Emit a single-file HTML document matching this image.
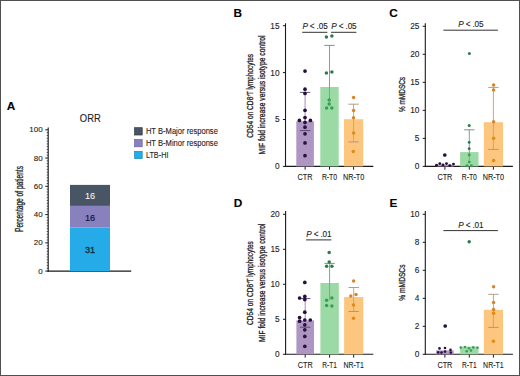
<!DOCTYPE html>
<html><head><meta charset="utf-8"><style>
html,body{margin:0;padding:0;background:#fff;overflow:hidden;width:520px;height:376px;}
svg{display:block;font-family:"Liberation Sans", sans-serif;}
</style></head><body>
<svg width="520" height="376" viewBox="0 0 520 376" font-family='"Liberation Sans", sans-serif'>
<rect x="0" y="0" width="520" height="376" fill="#fff"/>
<text x="6.8" y="110.4" font-size="11.8" text-anchor="start" font-weight="bold" fill="#000" stroke="#000" stroke-width="0.1" >A</text>
<text x="90.3" y="121.7" font-size="10.3" text-anchor="middle" font-weight="normal" fill="#222" stroke="#222" stroke-width="0.1" textLength="20.9" lengthAdjust="spacingAndGlyphs">ORR</text>
<line x1="48.2" y1="127.5" x2="48.2" y2="271.7" stroke="#1a1a1a" stroke-width="1.1"/>
<line x1="45.3" y1="271.1" x2="48.2" y2="271.1" stroke="#1a1a1a" stroke-width="1"/>
<text x="42.7" y="273.6" font-size="8.0" text-anchor="end" font-weight="normal" fill="#222" stroke="#222" stroke-width="0.1" >0</text>
<line x1="46.7" y1="268.27" x2="48.2" y2="268.27" stroke="#1a1a1a" stroke-width="0.7"/>
<line x1="46.7" y1="265.45" x2="48.2" y2="265.45" stroke="#1a1a1a" stroke-width="0.7"/>
<line x1="46.7" y1="262.62" x2="48.2" y2="262.62" stroke="#1a1a1a" stroke-width="0.7"/>
<line x1="46.7" y1="259.8" x2="48.2" y2="259.8" stroke="#1a1a1a" stroke-width="0.7"/>
<line x1="46.7" y1="256.97" x2="48.2" y2="256.97" stroke="#1a1a1a" stroke-width="0.7"/>
<line x1="46.7" y1="254.14" x2="48.2" y2="254.14" stroke="#1a1a1a" stroke-width="0.7"/>
<line x1="46.7" y1="251.32" x2="48.2" y2="251.32" stroke="#1a1a1a" stroke-width="0.7"/>
<line x1="46.7" y1="248.49" x2="48.2" y2="248.49" stroke="#1a1a1a" stroke-width="0.7"/>
<line x1="46.7" y1="245.67" x2="48.2" y2="245.67" stroke="#1a1a1a" stroke-width="0.7"/>
<line x1="45.3" y1="242.84" x2="48.2" y2="242.84" stroke="#1a1a1a" stroke-width="1"/>
<text x="42.7" y="245.34" font-size="8.0" text-anchor="end" font-weight="normal" fill="#222" stroke="#222" stroke-width="0.1" >20</text>
<line x1="46.7" y1="240.01" x2="48.2" y2="240.01" stroke="#1a1a1a" stroke-width="0.7"/>
<line x1="46.7" y1="237.19" x2="48.2" y2="237.19" stroke="#1a1a1a" stroke-width="0.7"/>
<line x1="46.7" y1="234.36" x2="48.2" y2="234.36" stroke="#1a1a1a" stroke-width="0.7"/>
<line x1="46.7" y1="231.54" x2="48.2" y2="231.54" stroke="#1a1a1a" stroke-width="0.7"/>
<line x1="46.7" y1="228.71" x2="48.2" y2="228.71" stroke="#1a1a1a" stroke-width="0.7"/>
<line x1="46.7" y1="225.88" x2="48.2" y2="225.88" stroke="#1a1a1a" stroke-width="0.7"/>
<line x1="46.7" y1="223.06" x2="48.2" y2="223.06" stroke="#1a1a1a" stroke-width="0.7"/>
<line x1="46.7" y1="220.23" x2="48.2" y2="220.23" stroke="#1a1a1a" stroke-width="0.7"/>
<line x1="46.7" y1="217.41" x2="48.2" y2="217.41" stroke="#1a1a1a" stroke-width="0.7"/>
<line x1="45.3" y1="214.58" x2="48.2" y2="214.58" stroke="#1a1a1a" stroke-width="1"/>
<text x="42.7" y="217.08" font-size="8.0" text-anchor="end" font-weight="normal" fill="#222" stroke="#222" stroke-width="0.1" >40</text>
<line x1="46.7" y1="211.75" x2="48.2" y2="211.75" stroke="#1a1a1a" stroke-width="0.7"/>
<line x1="46.7" y1="208.93" x2="48.2" y2="208.93" stroke="#1a1a1a" stroke-width="0.7"/>
<line x1="46.7" y1="206.1" x2="48.2" y2="206.1" stroke="#1a1a1a" stroke-width="0.7"/>
<line x1="46.7" y1="203.28" x2="48.2" y2="203.28" stroke="#1a1a1a" stroke-width="0.7"/>
<line x1="46.7" y1="200.45" x2="48.2" y2="200.45" stroke="#1a1a1a" stroke-width="0.7"/>
<line x1="46.7" y1="197.62" x2="48.2" y2="197.62" stroke="#1a1a1a" stroke-width="0.7"/>
<line x1="46.7" y1="194.8" x2="48.2" y2="194.8" stroke="#1a1a1a" stroke-width="0.7"/>
<line x1="46.7" y1="191.97" x2="48.2" y2="191.97" stroke="#1a1a1a" stroke-width="0.7"/>
<line x1="46.7" y1="189.15" x2="48.2" y2="189.15" stroke="#1a1a1a" stroke-width="0.7"/>
<line x1="45.3" y1="186.32" x2="48.2" y2="186.32" stroke="#1a1a1a" stroke-width="1"/>
<text x="42.7" y="188.82" font-size="8.0" text-anchor="end" font-weight="normal" fill="#222" stroke="#222" stroke-width="0.1" >60</text>
<line x1="46.7" y1="183.49" x2="48.2" y2="183.49" stroke="#1a1a1a" stroke-width="0.7"/>
<line x1="46.7" y1="180.67" x2="48.2" y2="180.67" stroke="#1a1a1a" stroke-width="0.7"/>
<line x1="46.7" y1="177.84" x2="48.2" y2="177.84" stroke="#1a1a1a" stroke-width="0.7"/>
<line x1="46.7" y1="175.02" x2="48.2" y2="175.02" stroke="#1a1a1a" stroke-width="0.7"/>
<line x1="46.7" y1="172.19" x2="48.2" y2="172.19" stroke="#1a1a1a" stroke-width="0.7"/>
<line x1="46.7" y1="169.36" x2="48.2" y2="169.36" stroke="#1a1a1a" stroke-width="0.7"/>
<line x1="46.7" y1="166.54" x2="48.2" y2="166.54" stroke="#1a1a1a" stroke-width="0.7"/>
<line x1="46.7" y1="163.71" x2="48.2" y2="163.71" stroke="#1a1a1a" stroke-width="0.7"/>
<line x1="46.7" y1="160.89" x2="48.2" y2="160.89" stroke="#1a1a1a" stroke-width="0.7"/>
<line x1="45.3" y1="158.06" x2="48.2" y2="158.06" stroke="#1a1a1a" stroke-width="1"/>
<text x="42.7" y="160.56" font-size="8.0" text-anchor="end" font-weight="normal" fill="#222" stroke="#222" stroke-width="0.1" >80</text>
<line x1="46.7" y1="155.23" x2="48.2" y2="155.23" stroke="#1a1a1a" stroke-width="0.7"/>
<line x1="46.7" y1="152.41" x2="48.2" y2="152.41" stroke="#1a1a1a" stroke-width="0.7"/>
<line x1="46.7" y1="149.58" x2="48.2" y2="149.58" stroke="#1a1a1a" stroke-width="0.7"/>
<line x1="46.7" y1="146.76" x2="48.2" y2="146.76" stroke="#1a1a1a" stroke-width="0.7"/>
<line x1="46.7" y1="143.93" x2="48.2" y2="143.93" stroke="#1a1a1a" stroke-width="0.7"/>
<line x1="46.7" y1="141.1" x2="48.2" y2="141.1" stroke="#1a1a1a" stroke-width="0.7"/>
<line x1="46.7" y1="138.28" x2="48.2" y2="138.28" stroke="#1a1a1a" stroke-width="0.7"/>
<line x1="46.7" y1="135.45" x2="48.2" y2="135.45" stroke="#1a1a1a" stroke-width="0.7"/>
<line x1="46.7" y1="132.63" x2="48.2" y2="132.63" stroke="#1a1a1a" stroke-width="0.7"/>
<line x1="45.3" y1="129.8" x2="48.2" y2="129.8" stroke="#1a1a1a" stroke-width="1"/>
<text x="42.7" y="132.3" font-size="8.0" text-anchor="end" font-weight="normal" fill="#222" stroke="#222" stroke-width="0.1" >100</text>
<line x1="47.7" y1="271.1" x2="131.2" y2="271.1" stroke="#1a1a1a" stroke-width="1.1"/>
<rect x="70" y="227.6" width="40" height="43.5" fill="#25abe7"/>
<rect x="70" y="205.9" width="40" height="21.7" fill="#8981be"/>
<rect x="70" y="184.9" width="40" height="21.0" fill="#485565"/>
<text x="90" y="253.1" font-size="9.2" text-anchor="middle" font-weight="normal" fill="#0e2a42" stroke="#0e2a42" stroke-width="0.3" >31</text>
<text x="90" y="220.7" font-size="9.2" text-anchor="middle" font-weight="normal" fill="#16163a" stroke="#16163a" stroke-width="0.2" >16</text>
<text x="90" y="198.8" font-size="9.2" text-anchor="middle" font-weight="normal" fill="#fff" stroke="#fff" stroke-width="0.1" stroke-opacity="0">16</text>
<rect x="134.6" y="127.7" width="7.6" height="7.3" fill="#485565" stroke="#2c3440" stroke-width="0.7"/>
<text x="145.9" y="134.1" font-size="8.4" text-anchor="start" font-weight="normal" fill="#222" stroke="#222" stroke-width="0.1" textLength="72.0" lengthAdjust="spacingAndGlyphs">HT B-Major response</text>
<rect x="134.6" y="139.50000000000003" width="7.6" height="7.3" fill="#8981be" stroke="#6d62a6" stroke-width="0.7"/>
<text x="145.9" y="145.9" font-size="8.4" text-anchor="start" font-weight="normal" fill="#222" stroke="#222" stroke-width="0.1" textLength="72.0" lengthAdjust="spacingAndGlyphs">HT B-Minor response</text>
<rect x="134.6" y="151.3" width="7.6" height="7.3" fill="#25abe7" stroke="#1888c0" stroke-width="0.7"/>
<text x="145.9" y="157.7" font-size="8.4" text-anchor="start" font-weight="normal" fill="#222" stroke="#222" stroke-width="0.1" textLength="22.6" lengthAdjust="spacingAndGlyphs">LTB-HI</text>
<text transform="translate(22.9,199) rotate(-90)" font-size="10.2" text-anchor="middle" fill="#222" stroke="#222" stroke-width="0.3" textLength="66" lengthAdjust="spacingAndGlyphs">Percentage of patients</text>
<text x="233.6" y="16.8" font-size="11.8" text-anchor="start" font-weight="bold" fill="#000" stroke="#000" stroke-width="0.1" >B</text>
<line x1="285.5" y1="23.3" x2="285.5" y2="166.9" stroke="#1a1a1a" stroke-width="1.1"/>
<line x1="282.9" y1="166.4" x2="285.5" y2="166.4" stroke="#1a1a1a" stroke-width="1"/>
<text x="279.6" y="169.3" font-size="8.3" text-anchor="end" font-weight="normal" fill="#222" stroke="#222" stroke-width="0.1" >0</text>
<line x1="282.9" y1="119.5" x2="285.5" y2="119.5" stroke="#1a1a1a" stroke-width="1"/>
<text x="279.6" y="122.4" font-size="8.3" text-anchor="end" font-weight="normal" fill="#222" stroke="#222" stroke-width="0.1" >5</text>
<line x1="282.9" y1="72.6" x2="285.5" y2="72.6" stroke="#1a1a1a" stroke-width="1"/>
<text x="279.6" y="75.5" font-size="8.3" text-anchor="end" font-weight="normal" fill="#222" stroke="#222" stroke-width="0.1" >10</text>
<line x1="282.9" y1="25.7" x2="285.5" y2="25.7" stroke="#1a1a1a" stroke-width="1"/>
<text x="279.6" y="28.6" font-size="8.3" text-anchor="end" font-weight="normal" fill="#222" stroke="#222" stroke-width="0.1" >15</text>
<line x1="285.0" y1="166.4" x2="373.3" y2="166.4" stroke="#1a1a1a" stroke-width="1.1"/>
<line x1="305.1" y1="166.4" x2="305.1" y2="169.7" stroke="#1a1a1a" stroke-width="1"/>
<text x="305.1" y="179.6" font-size="8.3" text-anchor="middle" font-weight="normal" fill="#222" stroke="#222" stroke-width="0.1" textLength="15.0" lengthAdjust="spacingAndGlyphs">CTR</text>
<line x1="329.5" y1="166.4" x2="329.5" y2="169.7" stroke="#1a1a1a" stroke-width="1"/>
<text x="329.5" y="179.6" font-size="8.3" text-anchor="middle" font-weight="normal" fill="#222" stroke="#222" stroke-width="0.1" textLength="15.2" lengthAdjust="spacingAndGlyphs">R-T0</text>
<line x1="353.6" y1="166.4" x2="353.6" y2="169.7" stroke="#1a1a1a" stroke-width="1"/>
<text x="353.6" y="179.6" font-size="8.3" text-anchor="middle" font-weight="normal" fill="#222" stroke="#222" stroke-width="0.1" textLength="21.4" lengthAdjust="spacingAndGlyphs">NR-T0</text>
<rect x="296.3" y="121.2" width="17.6" height="45.2" fill="#ae96c3"/>
<rect x="320.3" y="87.0" width="18.4" height="79.4" fill="#9cdaa5"/>
<rect x="344.0" y="119.2" width="19.2" height="47.2" fill="#fdc67e"/>
<line x1="305.1" y1="92.4" x2="305.1" y2="130.6" stroke="#a48cc2" stroke-width="1.0"/>
<line x1="299.9" y1="92.4" x2="310.3" y2="92.4" stroke="#54406a" stroke-width="0.9"/>
<line x1="299.9" y1="130.6" x2="310.3" y2="130.6" stroke="#54406a" stroke-width="0.9"/>
<line x1="329.5" y1="45.4" x2="329.5" y2="101.0" stroke="#78a888" stroke-width="1.0"/>
<line x1="324.3" y1="45.4" x2="334.7" y2="45.4" stroke="#6a8c78" stroke-width="0.9"/>
<line x1="353.6" y1="104.2" x2="353.6" y2="141.9" stroke="#d4a468" stroke-width="1.0"/>
<line x1="348.4" y1="104.2" x2="358.8" y2="104.2" stroke="#a8937a" stroke-width="0.9"/>
<line x1="348.4" y1="141.9" x2="358.8" y2="141.9" stroke="#a8937a" stroke-width="0.9"/>
<circle cx="305" cy="71.1" r="1.85" fill="#24103a"/>
<circle cx="305" cy="89.2" r="1.85" fill="#24103a"/>
<circle cx="305" cy="93.4" r="1.85" fill="#24103a"/>
<circle cx="305" cy="110.3" r="1.85" fill="#24103a"/>
<circle cx="305" cy="117.6" r="1.85" fill="#24103a"/>
<circle cx="299.4" cy="120.4" r="1.85" fill="#24103a"/>
<circle cx="310.4" cy="120.4" r="1.85" fill="#24103a"/>
<circle cx="305" cy="122.4" r="1.85" fill="#2a1240"/>
<circle cx="305" cy="127.2" r="1.85" fill="#2a1240"/>
<circle cx="305" cy="133.8" r="1.85" fill="#2a1240"/>
<circle cx="305" cy="142.9" r="1.85" fill="#2a1240"/>
<circle cx="305" cy="155.7" r="1.85" fill="#2a1240"/>
<circle cx="326.4" cy="37" r="1.75" fill="#2b7c4a"/>
<circle cx="331.9" cy="35.9" r="1.75" fill="#2b7c4a"/>
<circle cx="326.4" cy="73.1" r="1.75" fill="#2b7c4a"/>
<circle cx="331.9" cy="72" r="1.75" fill="#2b7c4a"/>
<circle cx="329.2" cy="100" r="1.75" fill="#36a052"/>
<circle cx="329.2" cy="103.9" r="1.75" fill="#36a052"/>
<circle cx="326.6" cy="107.9" r="1.75" fill="#36a052"/>
<circle cx="331.8" cy="107.9" r="1.75" fill="#36a052"/>
<circle cx="353.6" cy="97.4" r="1.75" fill="#d6862a"/>
<circle cx="353.6" cy="110.5" r="1.75" fill="#d6862a"/>
<circle cx="353.5" cy="117.8" r="1.75" fill="#d6862a"/>
<circle cx="353.6" cy="133.1" r="1.75" fill="#e08a1a"/>
<circle cx="353.3" cy="151.5" r="1.75" fill="#e08a1a"/>
<line x1="302.2" y1="32.3" x2="327.4" y2="32.3" stroke="#333" stroke-width="1"/>
<text x="315.0" y="29.3" font-size="8.2" letter-spacing="-0.15" text-anchor="middle" fill="#222" stroke="#222" stroke-width="0.1"><tspan font-style="italic">P</tspan> &lt; .05</text>
<line x1="331.0" y1="32.3" x2="356.4" y2="32.3" stroke="#333" stroke-width="1"/>
<text x="343.9" y="29.3" font-size="8.2" letter-spacing="-0.15" text-anchor="middle" fill="#222" stroke="#222" stroke-width="0.1"><tspan font-style="italic">P</tspan> &lt; .05</text>
<text transform="translate(264.9,94.9) rotate(-90)" font-size="9.4" text-anchor="middle" fill="#222" stroke="#222" stroke-width="0.3" textLength="119.0" lengthAdjust="spacingAndGlyphs">MIF fold increase versus isotype control</text>
<text transform="translate(252.8,137.7) rotate(-90)" font-size="9.4" text-anchor="start" fill="#222" stroke="#222" stroke-width="0.3" textLength="41.0" lengthAdjust="spacingAndGlyphs">CD54 on CD8</text>
<text transform="translate(250.4,96.99999999999999) rotate(-90)" font-size="6" text-anchor="start" fill="#222" stroke="#222" stroke-width="0.1">+</text>
<text transform="translate(252.8,95.1) rotate(-90)" font-size="9.4" text-anchor="start" fill="#222" stroke="#222" stroke-width="0.3" textLength="41.0" lengthAdjust="spacingAndGlyphs">T lymphocytes</text>
<text x="233.8" y="206.9" font-size="11.8" text-anchor="start" font-weight="bold" fill="#000" stroke="#000" stroke-width="0.1" >D</text>
<line x1="285.6" y1="210.9" x2="285.6" y2="354.8" stroke="#1a1a1a" stroke-width="1.1"/>
<line x1="283.0" y1="354.3" x2="285.6" y2="354.3" stroke="#1a1a1a" stroke-width="1"/>
<text x="279.7" y="357.2" font-size="8.3" text-anchor="end" font-weight="normal" fill="#222" stroke="#222" stroke-width="0.1" >0</text>
<line x1="283.0" y1="319.3" x2="285.6" y2="319.3" stroke="#1a1a1a" stroke-width="1"/>
<text x="279.7" y="322.2" font-size="8.3" text-anchor="end" font-weight="normal" fill="#222" stroke="#222" stroke-width="0.1" >5</text>
<line x1="283.0" y1="284.3" x2="285.6" y2="284.3" stroke="#1a1a1a" stroke-width="1"/>
<text x="279.7" y="287.2" font-size="8.3" text-anchor="end" font-weight="normal" fill="#222" stroke="#222" stroke-width="0.1" >10</text>
<line x1="283.0" y1="249.3" x2="285.6" y2="249.3" stroke="#1a1a1a" stroke-width="1"/>
<text x="279.7" y="252.2" font-size="8.3" text-anchor="end" font-weight="normal" fill="#222" stroke="#222" stroke-width="0.1" >15</text>
<line x1="283.0" y1="214.3" x2="285.6" y2="214.3" stroke="#1a1a1a" stroke-width="1"/>
<text x="279.7" y="217.2" font-size="8.3" text-anchor="end" font-weight="normal" fill="#222" stroke="#222" stroke-width="0.1" >20</text>
<line x1="285.1" y1="354.3" x2="373.3" y2="354.3" stroke="#1a1a1a" stroke-width="1.1"/>
<line x1="305.2" y1="354.3" x2="305.2" y2="357.6" stroke="#1a1a1a" stroke-width="1"/>
<text x="305.2" y="367.5" font-size="8.3" text-anchor="middle" font-weight="normal" fill="#222" stroke="#222" stroke-width="0.1" textLength="15.0" lengthAdjust="spacingAndGlyphs">CTR</text>
<line x1="329.6" y1="354.3" x2="329.6" y2="357.6" stroke="#1a1a1a" stroke-width="1"/>
<text x="329.6" y="367.5" font-size="8.3" text-anchor="middle" font-weight="normal" fill="#222" stroke="#222" stroke-width="0.1" textLength="14.6" lengthAdjust="spacingAndGlyphs">R-T1</text>
<line x1="353.7" y1="354.3" x2="353.7" y2="357.6" stroke="#1a1a1a" stroke-width="1"/>
<text x="353.7" y="367.5" font-size="8.3" text-anchor="middle" font-weight="normal" fill="#222" stroke="#222" stroke-width="0.1" textLength="20.6" lengthAdjust="spacingAndGlyphs">NR-T1</text>
<rect x="296.4" y="320.4" width="17.6" height="33.9" fill="#ae96c3"/>
<rect x="320.4" y="283.0" width="18.4" height="71.3" fill="#9cdaa5"/>
<rect x="344.1" y="297.0" width="19.2" height="57.3" fill="#fdc67e"/>
<line x1="305.2" y1="298.6" x2="305.2" y2="327.2" stroke="#a48cc2" stroke-width="1.0"/>
<line x1="300.0" y1="298.6" x2="310.4" y2="298.6" stroke="#54406a" stroke-width="0.9"/>
<line x1="300.0" y1="327.2" x2="310.4" y2="327.2" stroke="#54406a" stroke-width="0.9"/>
<line x1="329.6" y1="263.4" x2="329.6" y2="300.0" stroke="#78a888" stroke-width="1.0"/>
<line x1="324.4" y1="263.4" x2="334.8" y2="263.4" stroke="#6a8c78" stroke-width="0.9"/>
<line x1="353.7" y1="287.5" x2="353.7" y2="311.5" stroke="#d4a468" stroke-width="1.0"/>
<line x1="348.5" y1="287.5" x2="358.9" y2="287.5" stroke="#a8937a" stroke-width="0.9"/>
<line x1="348.5" y1="311.5" x2="358.9" y2="311.5" stroke="#a8937a" stroke-width="0.9"/>
<circle cx="304.8" cy="282.4" r="1.85" fill="#24103a"/>
<circle cx="304.8" cy="296.4" r="1.85" fill="#24103a"/>
<circle cx="299.6" cy="298" r="1.85" fill="#24103a"/>
<circle cx="304.8" cy="299.6" r="1.85" fill="#24103a"/>
<circle cx="304.8" cy="312.2" r="1.85" fill="#24103a"/>
<circle cx="299.6" cy="317.5" r="1.85" fill="#24103a"/>
<circle cx="304.8" cy="320" r="1.85" fill="#24103a"/>
<circle cx="310.3" cy="320" r="1.85" fill="#24103a"/>
<circle cx="299.6" cy="321.2" r="1.85" fill="#24103a"/>
<circle cx="304.8" cy="324.8" r="1.85" fill="#2a1240"/>
<circle cx="304.8" cy="329.8" r="1.85" fill="#2a1240"/>
<circle cx="304.8" cy="336.4" r="1.85" fill="#2a1240"/>
<circle cx="304.8" cy="346.3" r="1.85" fill="#2a1240"/>
<circle cx="329.2" cy="252.4" r="1.75" fill="#2b7c4a"/>
<circle cx="329.2" cy="262" r="1.75" fill="#2b7c4a"/>
<circle cx="326.6" cy="266.3" r="1.75" fill="#2b7c4a"/>
<circle cx="331.9" cy="266.3" r="1.75" fill="#2b7c4a"/>
<circle cx="331.9" cy="298" r="1.75" fill="#36a052"/>
<circle cx="326.6" cy="300.2" r="1.75" fill="#36a052"/>
<circle cx="326.6" cy="305.6" r="1.75" fill="#36a052"/>
<circle cx="331.9" cy="306" r="1.75" fill="#36a052"/>
<circle cx="353.6" cy="281" r="1.75" fill="#d6862a"/>
<circle cx="356" cy="294.5" r="1.75" fill="#d6862a"/>
<circle cx="350.8" cy="296" r="1.75" fill="#d6862a"/>
<circle cx="353.5" cy="305" r="1.75" fill="#e08a1a"/>
<circle cx="353.5" cy="318.2" r="1.75" fill="#e08a1a"/>
<line x1="306.0" y1="239.9" x2="331.3" y2="239.9" stroke="#333" stroke-width="1"/>
<text x="318.85" y="236.9" font-size="8.2" letter-spacing="-0.15" text-anchor="middle" fill="#222" stroke="#222" stroke-width="0.1"><tspan font-style="italic">P</tspan> &lt; .01</text>
<text transform="translate(264.9,282.8) rotate(-90)" font-size="9.4" text-anchor="middle" fill="#222" stroke="#222" stroke-width="0.3" textLength="118.3" lengthAdjust="spacingAndGlyphs">MIF fold increase versus isotype control</text>
<text transform="translate(252.8,324.9) rotate(-90)" font-size="9.4" text-anchor="start" fill="#222" stroke="#222" stroke-width="0.3" textLength="41.0" lengthAdjust="spacingAndGlyphs">CD54 on CD8</text>
<text transform="translate(250.4,284.2) rotate(-90)" font-size="6" text-anchor="start" fill="#222" stroke="#222" stroke-width="0.1">+</text>
<text transform="translate(252.8,282.29999999999995) rotate(-90)" font-size="9.4" text-anchor="start" fill="#222" stroke="#222" stroke-width="0.3" textLength="41.0" lengthAdjust="spacingAndGlyphs">T lymphocytes</text>
<text x="389.2" y="16.8" font-size="11.8" text-anchor="start" font-weight="bold" fill="#000" stroke="#000" stroke-width="0.1" >C</text>
<line x1="425.3" y1="23.3" x2="425.3" y2="166.9" stroke="#1a1a1a" stroke-width="1.1"/>
<line x1="422.7" y1="166.4" x2="425.3" y2="166.4" stroke="#1a1a1a" stroke-width="1"/>
<text x="419.4" y="169.3" font-size="8.3" text-anchor="end" font-weight="normal" fill="#222" stroke="#222" stroke-width="0.1" >0</text>
<line x1="422.7" y1="138.38" x2="425.3" y2="138.38" stroke="#1a1a1a" stroke-width="1"/>
<text x="419.4" y="141.28" font-size="8.3" text-anchor="end" font-weight="normal" fill="#222" stroke="#222" stroke-width="0.1" >5</text>
<line x1="422.7" y1="110.35" x2="425.3" y2="110.35" stroke="#1a1a1a" stroke-width="1"/>
<text x="419.4" y="113.25" font-size="8.3" text-anchor="end" font-weight="normal" fill="#222" stroke="#222" stroke-width="0.1" >10</text>
<line x1="422.7" y1="82.33" x2="425.3" y2="82.33" stroke="#1a1a1a" stroke-width="1"/>
<text x="419.4" y="85.23" font-size="8.3" text-anchor="end" font-weight="normal" fill="#222" stroke="#222" stroke-width="0.1" >15</text>
<line x1="422.7" y1="54.3" x2="425.3" y2="54.3" stroke="#1a1a1a" stroke-width="1"/>
<text x="419.4" y="57.2" font-size="8.3" text-anchor="end" font-weight="normal" fill="#222" stroke="#222" stroke-width="0.1" >20</text>
<line x1="422.7" y1="26.28" x2="425.3" y2="26.28" stroke="#1a1a1a" stroke-width="1"/>
<text x="419.4" y="29.18" font-size="8.3" text-anchor="end" font-weight="normal" fill="#222" stroke="#222" stroke-width="0.1" >25</text>
<line x1="424.8" y1="166.4" x2="512.9" y2="166.4" stroke="#1a1a1a" stroke-width="1.1"/>
<line x1="444.9" y1="166.4" x2="444.9" y2="169.7" stroke="#1a1a1a" stroke-width="1"/>
<text x="444.9" y="179.6" font-size="8.3" text-anchor="middle" font-weight="normal" fill="#222" stroke="#222" stroke-width="0.1" textLength="15.0" lengthAdjust="spacingAndGlyphs">CTR</text>
<line x1="469.3" y1="166.4" x2="469.3" y2="169.7" stroke="#1a1a1a" stroke-width="1"/>
<text x="469.3" y="179.6" font-size="8.3" text-anchor="middle" font-weight="normal" fill="#222" stroke="#222" stroke-width="0.1" textLength="15.2" lengthAdjust="spacingAndGlyphs">R-T0</text>
<line x1="493.4" y1="166.4" x2="493.4" y2="169.7" stroke="#1a1a1a" stroke-width="1"/>
<text x="493.4" y="179.6" font-size="8.3" text-anchor="middle" font-weight="normal" fill="#222" stroke="#222" stroke-width="0.1" textLength="21.4" lengthAdjust="spacingAndGlyphs">NR-T0</text>
<rect x="436.1" y="164.6" width="17.6" height="1.8" fill="#ae96c3"/>
<rect x="460.1" y="152.1" width="18.4" height="14.3" fill="#9cdaa5"/>
<rect x="483.8" y="122.2" width="19.2" height="44.2" fill="#fdc67e"/>
<line x1="469.3" y1="129.8" x2="469.3" y2="160.0" stroke="#78a888" stroke-width="1.0"/>
<line x1="464.1" y1="129.8" x2="474.5" y2="129.8" stroke="#6a8c78" stroke-width="0.9"/>
<line x1="493.4" y1="87.4" x2="493.4" y2="149.4" stroke="#d4a468" stroke-width="1.0"/>
<line x1="488.2" y1="87.4" x2="498.6" y2="87.4" stroke="#a8937a" stroke-width="0.9"/>
<line x1="488.2" y1="149.4" x2="498.6" y2="149.4" stroke="#a8937a" stroke-width="0.9"/>
<circle cx="444.8" cy="155" r="1.85" fill="#24103a"/>
<circle cx="436.5" cy="165.3" r="1.45" fill="#24103a"/>
<circle cx="439.8" cy="163.6" r="1.45" fill="#24103a"/>
<circle cx="443" cy="164.9" r="1.45" fill="#24103a"/>
<circle cx="446.5" cy="163.6" r="1.45" fill="#24103a"/>
<circle cx="449.8" cy="165.6" r="1.45" fill="#24103a"/>
<circle cx="453.5" cy="164.1" r="1.45" fill="#24103a"/>
<circle cx="469.4" cy="53.6" r="1.5" fill="#2b7c4a"/>
<circle cx="469.2" cy="125.4" r="1.5" fill="#2b7c4a"/>
<circle cx="469.2" cy="142.4" r="1.45" fill="#2b7c4a"/>
<circle cx="469.2" cy="148.8" r="1.45" fill="#2b7c4a"/>
<circle cx="469.2" cy="155" r="1.45" fill="#36a052"/>
<circle cx="469.2" cy="162" r="1.45" fill="#36a052"/>
<circle cx="467" cy="165.8" r="1.45" fill="#36a052"/>
<circle cx="471.4" cy="165.8" r="1.45" fill="#36a052"/>
<circle cx="493.6" cy="85" r="1.75" fill="#d6862a"/>
<circle cx="493.6" cy="90" r="1.75" fill="#d6862a"/>
<circle cx="493.6" cy="121.8" r="1.75" fill="#d6862a"/>
<circle cx="493.6" cy="138.3" r="1.75" fill="#e08a1a"/>
<circle cx="493.6" cy="160.6" r="1.75" fill="#e08a1a"/>
<line x1="443.4" y1="30.2" x2="497.9" y2="30.2" stroke="#333" stroke-width="1"/>
<text x="470.85" y="27.2" font-size="8.2" letter-spacing="-0.15" text-anchor="middle" fill="#222" stroke="#222" stroke-width="0.1"><tspan font-style="italic">P</tspan> &lt; .05</text>
<text transform="translate(404.7,94.5) rotate(-90)" font-size="9.8" text-anchor="middle" fill="#222" stroke="#222" stroke-width="0.3" textLength="35.2" lengthAdjust="spacingAndGlyphs">% mMDSCs</text>
<text x="389.4" y="206.8" font-size="11.8" text-anchor="start" font-weight="bold" fill="#000" stroke="#000" stroke-width="0.1" >E</text>
<line x1="425.3" y1="211.0" x2="425.3" y2="354.8" stroke="#1a1a1a" stroke-width="1.1"/>
<line x1="422.7" y1="354.3" x2="425.3" y2="354.3" stroke="#1a1a1a" stroke-width="1"/>
<text x="419.4" y="357.2" font-size="8.3" text-anchor="end" font-weight="normal" fill="#222" stroke="#222" stroke-width="0.1" >0</text>
<line x1="422.7" y1="326.3" x2="425.3" y2="326.3" stroke="#1a1a1a" stroke-width="1"/>
<text x="419.4" y="329.2" font-size="8.3" text-anchor="end" font-weight="normal" fill="#222" stroke="#222" stroke-width="0.1" >2</text>
<line x1="422.7" y1="298.3" x2="425.3" y2="298.3" stroke="#1a1a1a" stroke-width="1"/>
<text x="419.4" y="301.2" font-size="8.3" text-anchor="end" font-weight="normal" fill="#222" stroke="#222" stroke-width="0.1" >4</text>
<line x1="422.7" y1="270.3" x2="425.3" y2="270.3" stroke="#1a1a1a" stroke-width="1"/>
<text x="419.4" y="273.2" font-size="8.3" text-anchor="end" font-weight="normal" fill="#222" stroke="#222" stroke-width="0.1" >6</text>
<line x1="422.7" y1="242.3" x2="425.3" y2="242.3" stroke="#1a1a1a" stroke-width="1"/>
<text x="419.4" y="245.2" font-size="8.3" text-anchor="end" font-weight="normal" fill="#222" stroke="#222" stroke-width="0.1" >8</text>
<line x1="422.7" y1="214.3" x2="425.3" y2="214.3" stroke="#1a1a1a" stroke-width="1"/>
<text x="419.4" y="217.2" font-size="8.3" text-anchor="end" font-weight="normal" fill="#222" stroke="#222" stroke-width="0.1" >10</text>
<line x1="424.8" y1="354.3" x2="512.9" y2="354.3" stroke="#1a1a1a" stroke-width="1.1"/>
<line x1="444.9" y1="354.3" x2="444.9" y2="357.6" stroke="#1a1a1a" stroke-width="1"/>
<text x="444.9" y="367.5" font-size="8.3" text-anchor="middle" font-weight="normal" fill="#222" stroke="#222" stroke-width="0.1" textLength="15.0" lengthAdjust="spacingAndGlyphs">CTR</text>
<line x1="469.3" y1="354.3" x2="469.3" y2="357.6" stroke="#1a1a1a" stroke-width="1"/>
<text x="469.3" y="367.5" font-size="8.3" text-anchor="middle" font-weight="normal" fill="#222" stroke="#222" stroke-width="0.1" textLength="14.6" lengthAdjust="spacingAndGlyphs">R-T1</text>
<line x1="493.4" y1="354.3" x2="493.4" y2="357.6" stroke="#1a1a1a" stroke-width="1"/>
<text x="493.4" y="367.5" font-size="8.3" text-anchor="middle" font-weight="normal" fill="#222" stroke="#222" stroke-width="0.1" textLength="20.6" lengthAdjust="spacingAndGlyphs">NR-T1</text>
<rect x="436.1" y="350.4" width="17.6" height="3.9" fill="#ae96c3"/>
<rect x="460.1" y="346.6" width="18.4" height="7.7" fill="#9cdaa5"/>
<rect x="483.8" y="309.8" width="19.2" height="44.5" fill="#fdc67e"/>
<line x1="493.4" y1="294.3" x2="493.4" y2="327.4" stroke="#d4a468" stroke-width="1.0"/>
<line x1="488.2" y1="294.3" x2="498.6" y2="294.3" stroke="#a8937a" stroke-width="0.9"/>
<line x1="488.2" y1="327.4" x2="498.6" y2="327.4" stroke="#a8937a" stroke-width="0.9"/>
<circle cx="445.2" cy="326" r="1.85" fill="#24103a"/>
<circle cx="439.5" cy="348.4" r="1.3" fill="#24103a"/>
<circle cx="445" cy="348.0" r="1.3" fill="#24103a"/>
<circle cx="450.5" cy="349.9" r="1.3" fill="#24103a"/>
<circle cx="445" cy="351.6" r="1.3" fill="#2a1240"/>
<circle cx="438.2" cy="352.4" r="1.3" fill="#2a1240"/>
<circle cx="441.5" cy="352.6" r="1.3" fill="#2a1240"/>
<circle cx="450.8" cy="352.6" r="1.3" fill="#2a1240"/>
<circle cx="469.2" cy="241.8" r="1.75" fill="#2b7c4a"/>
<circle cx="460.75" cy="347.6" r="1.3" fill="#3a9e58"/>
<circle cx="465" cy="347.0" r="1.3" fill="#3a9e58"/>
<circle cx="469" cy="348.3" r="1.3" fill="#3a9e58"/>
<circle cx="473.25" cy="347.4" r="1.3" fill="#3a9e58"/>
<circle cx="477.5" cy="347.8" r="1.3" fill="#3a9e58"/>
<circle cx="466.75" cy="351.2" r="1.3" fill="#3a9e58"/>
<circle cx="471" cy="350.5" r="1.3" fill="#3a9e58"/>
<circle cx="493.6" cy="286.8" r="1.75" fill="#d6862a"/>
<circle cx="493.6" cy="302.6" r="1.75" fill="#d6862a"/>
<circle cx="493.6" cy="309.4" r="1.75" fill="#d6862a"/>
<circle cx="493.6" cy="313.2" r="1.75" fill="#e08a1a"/>
<circle cx="493.4" cy="341.3" r="1.75" fill="#e08a1a"/>
<line x1="443.4" y1="230.6" x2="497.9" y2="230.6" stroke="#333" stroke-width="1"/>
<text x="470.85" y="227.6" font-size="8.2" letter-spacing="-0.15" text-anchor="middle" fill="#222" stroke="#222" stroke-width="0.1"><tspan font-style="italic">P</tspan> &lt; .01</text>
<text transform="translate(404.7,282.6) rotate(-90)" font-size="9.8" text-anchor="middle" fill="#222" stroke="#222" stroke-width="0.3" textLength="36.2" lengthAdjust="spacingAndGlyphs">% mMDSCs</text>
<rect x="0.5" y="0.5" width="519" height="375" fill="none" stroke="#505050" stroke-width="1"/>
</svg>
</body></html>
